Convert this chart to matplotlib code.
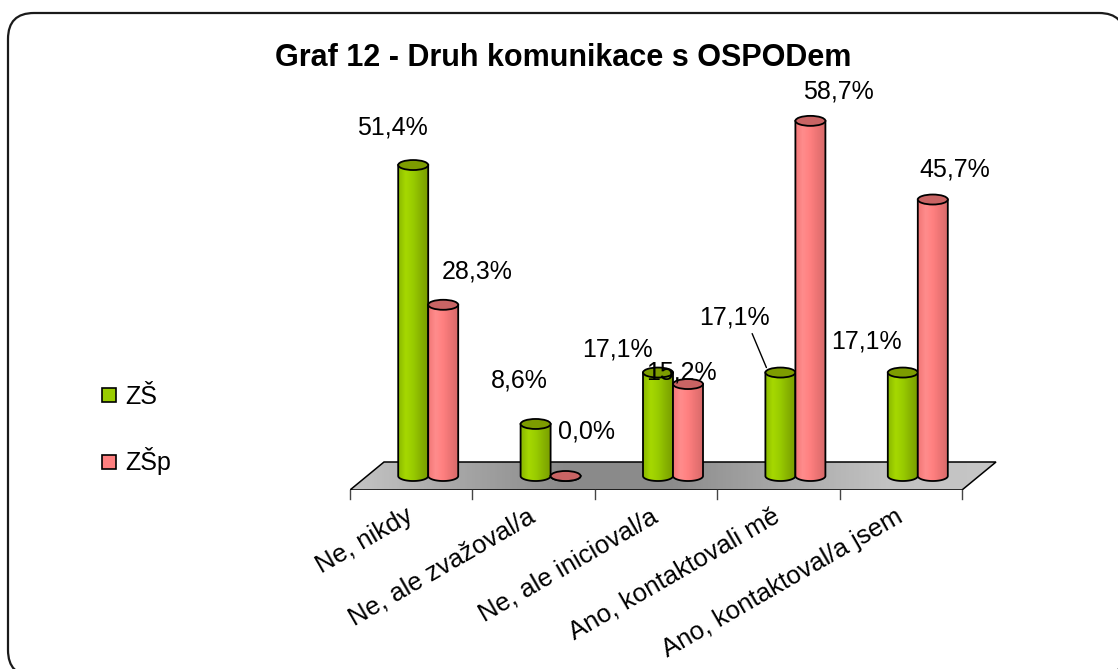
import numpy as np
import matplotlib
matplotlib.use('Agg')
import matplotlib.pyplot as plt
from matplotlib.patches import Ellipse, Polygon, FancyBboxPatch, PathPatch
from matplotlib.path import Path
from matplotlib.colors import LinearSegmentedColormap
from matplotlib.lines import Line2D

plt.rcParams['font.family'] = ['Liberation Sans', 'DejaVu Sans']

##############################
categories = ['Ne, nikdy', 'Ne, ale zvažoval/a', 'Ne, ale inicioval/a',
              'Ano, kontaktovali mě', 'Ano, kontaktoval/a jsem']
zs = [51.4, 8.6, 17.1, 17.1, 17.1]
zsp = [28.3, 0.0, 15.2, 58.7, 45.7]
series_names = ['ZŠ', 'ZŠp']
title = 'Graf 12 - Druh komunikace s OSPODem'
##############################

# label placement (pixels from the bar top), like excel put them
zs_off = [(-21, 38), (-16, 43), (-41, 23), (-46, 55), (-36, 31)]
zsp_off = [(34, 33), (21, 45), (-7, 12), (28, 29), (22, 30)]
zs_leader = [False, False, False, True, False]

W, H = 1118, 669
PX = 6.05           # pixels per percent
GX = 122.4          # pixels per category
DEPTH = 28 / PX     # floor depth in value units
DX = 34 / GX        # floor skew in category units
ELL = 10 / PX       # ellipse height of cylinder caps
BW = 30 / GX        # cylinder width
LBL = 18            # data label font size

green, red = '#99CC00', '#FF8080'
cm_green = LinearSegmentedColormap.from_list('g', ['#8AB800', '#A6D800', '#99CC00', '#88B400', '#7A9E00'])
cm_red = LinearSegmentedColormap.from_list('r', ['#F27676', '#FF8C8C', '#FF8080', '#EC7474', '#D86A6A'])
cm_floor = LinearSegmentedColormap.from_list('f', ['#c4c4c4', '#a6a6a6', '#8a8a8a', '#8c8c8c', '#a8a8a8', '#c2c2c2', '#c6c6c6'])

fig = plt.figure(figsize=(W / 100, H / 100), dpi=100)

# rounded border around the whole chart
bg = fig.add_axes([0, 0, 1, 1])
bg.set_xlim(0, W)
bg.set_ylim(H, 0)
bg.axis('off')
bg.add_patch(FancyBboxPatch((8, 13), 1117, 663, boxstyle='round,pad=0,rounding_size=26',
                            fc='white', ec='#1a1a1a', lw=1.6))

YMAX = 64
XMAX = 4.9
ax = fig.add_axes([350 / W, (H - 490) / H, (XMAX + 0.5) * GX / W, YMAX * PX / H])
ax.patch.set_alpha(0)

# floor
floor = Polygon([(-0.5, 0), (4.5, 0), (4.5 + DX, DEPTH), (-0.5 + DX, DEPTH)],
                closed=True, fc='none', ec='k', lw=1.1, zorder=2)
ax.add_patch(floor)
fim = ax.imshow(np.linspace(0, 1, 200).reshape(1, -1), extent=(-0.5, 4.5 + DX, 0, DEPTH),
                aspect='auto', cmap=cm_floor, interpolation='bilinear', zorder=1)
fim.set_clip_path(floor)

# axis ticks under the front edge
for t in np.arange(-0.5, 4.51, 1):
    ax.plot([t, t], [0, -9 / PX], color='#444444', lw=1, clip_on=False, zorder=2)


def cylinder(ax, xl, base, h, cmap, topc, z):
    th = np.linspace(np.pi, 2 * np.pi, 40)
    cx = xl + BW / 2
    bx = cx + BW / 2 * np.cos(th)
    by = base + ELL / 2 * np.sin(th)
    verts = [(xl, base + h)] + list(zip(bx, by)) + [(xl + BW, base + h), (xl, base + h)]
    codes = [Path.MOVETO] + [Path.LINETO] * (len(verts) - 2) + [Path.CLOSEPOLY]
    body = ax.add_patch(PathPatch(Path(verts, codes), fc='none', ec='k', lw=1.3, zorder=z + 0.2))
    im = ax.imshow(np.linspace(0, 1, 50).reshape(1, -1), extent=(xl, xl + BW, base - ELL / 2, base + h),
                   aspect='auto', cmap=cmap, interpolation='bilinear', zorder=z)
    im.set_clip_path(body)
    ax.add_patch(Ellipse((cx, base + h), BW, ELL, fc=topc, ec='k', lw=1.3, zorder=z + 0.3))


def fmt(v):
    return f'{v:.1f}'.replace('.', ',') + '%'


base = DEPTH / 2
for i in range(len(categories)):
    c = i + DX / 2
    cylinder(ax, c - BW, base, zs[i], cm_green, '#7D9C00', 3 + 2 * i)
    cylinder(ax, c, base, zsp[i], cm_red, '#C96464', 4 + 2 * i)

    top_g = base + zs[i]
    if zs_leader[i]:
        ex, ey = -14, 5
        ax.annotate(fmt(zs[i]), xy=(c - BW / 2 + ex / GX, top_g + ey / PX),
                    xytext=(zs_off[i][0] - ex, zs_off[i][1] - ey), textcoords='offset pixels',
                    ha='center', va='center', fontsize=LBL, zorder=20,
                    arrowprops=dict(arrowstyle='-', color='k', lw=1, shrinkA=1, shrinkB=0,
                                    relpos=(0.72, 0.05)))
    else:
        ax.annotate(fmt(zs[i]), xy=(c - BW / 2, top_g), xytext=zs_off[i],
                    textcoords='offset pixels', ha='center', va='center', fontsize=LBL, zorder=20)
    ax.annotate(fmt(zsp[i]), xy=(c + BW / 2, base + zsp[i]), xytext=zsp_off[i],
                textcoords='offset pixels', ha='center', va='center', fontsize=LBL, zorder=20)

    ax.text(i - 0.05, -14 / PX, categories[i], rotation=30, rotation_mode='anchor',
            ha='right', va='top', fontsize=18.5)

ax.set_xlim(-0.5, XMAX)
ax.set_ylim(0, YMAX)
ax.axis('off')

fig.text(563 / W, 1 - 58 / H, title, ha='center', va='center', fontsize=22, fontweight='bold')

handles = [Line2D([], [], marker='s', ls='none', markersize=10, mfc=col, mec='k', mew=1.2)
           for col in [green, red]]
fig.legend(handles, series_names, loc='center left', bbox_to_anchor=(77 / W, 1 - 430 / H),
           frameon=False, fontsize=18, handlelength=0.8, handletextpad=0.25, labelspacing=1.55)

fig.savefig('out.png', dpi=100)
